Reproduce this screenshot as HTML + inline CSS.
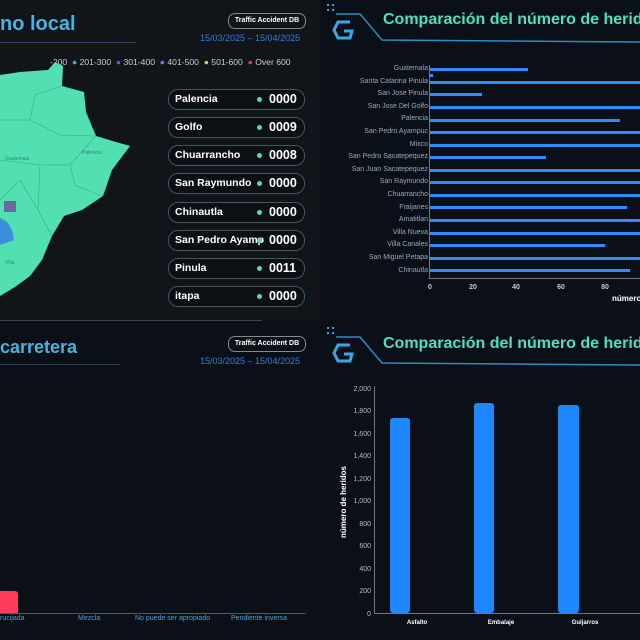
<!DOCTYPE html>
<html><head><meta charset="utf-8"><style>
html,body{margin:0;padding:0;}
body{width:640px;height:640px;background:#0b0f17;position:relative;overflow:hidden;font-family:"Liberation Sans",sans-serif;}
.a{position:absolute;white-space:nowrap;}
.pill{position:absolute;left:168px;width:135px;height:19px;border:1.5px solid #3c5a5c;border-radius:10px;background:#0c1014;color:#fff;font-weight:bold;font-size:10.5px;overflow:hidden;}
.pill .n{position:absolute;left:6px;top:3px;}
.pill .d{position:absolute;left:88px;top:7px;width:5px;height:5px;border-radius:50%;background:#5fd8b0;}
.pill .v{position:absolute;left:100px;top:2px;font-size:12.5px;background:#0c1014;}
.badge{position:absolute;left:228px;width:76px;height:14px;border:1px solid #888;border-radius:7px;color:#fff;font-size:7px;font-weight:bold;text-align:center;line-height:14px;}
.date{position:absolute;color:#2f7fd8;font-size:9px;left:200px;}
.hl{position:absolute;right:0;font-size:7px;color:#9ab;text-align:right;width:92px;}
</style></head><body>
<div class="a" style="left:0;top:0;width:320px;height:320px;background:#111419"></div>
<div class="a" style="left:0;top:320px;width:262px;height:1px;background:#3a4450"></div>

<!-- TOP LEFT -->
<div class="a" style="left:0;top:13px;font-size:20px;font-weight:bold;color:#45b5e0">no local</div>
<div class="a" style="left:0;top:42px;width:136px;height:1px;background:#2a4a60"></div>
<div class="badge" style="top:13px">Traffic Accident DB</div>
<div class="date" style="top:33px">15/03/2025 – 15/04/2025</div>
<div class="a" style="left:50px;top:57px;font-size:8.6px;color:#ccc">
-200 &nbsp;<span style="color:#4aa8e0">●</span> 201-300 &nbsp;<span style="color:#2d6fe0">●</span> 301-400 &nbsp;<span style="color:#8a6fe0">●</span> 401-500 &nbsp;<span style="color:#e8c060">●</span> 501-600 &nbsp;<span style="color:#e0405a">●</span> Over 600</div>
<svg class="a" style="left:0;top:0" width="140" height="320">
<polygon points="0,75 20,72 48,70 55,62 63,66 62,86 84,92 86,112 96,136 116,142 130,146 112,170 103,196 82,210 64,216 52,236 42,260 30,276 15,287 0,296" fill="#52e0b2"/>
<g stroke="#3fb890" stroke-width="0.8" fill="none">
<path d="M0,120 L30,120 60,135 95,136"/><path d="M30,120 L35,95 62,86"/><path d="M0,160 L40,165 70,165 96,136"/>
<path d="M70,165 L75,185 102,196"/><path d="M40,165 L38,210 52,236"/><path d="M20,180 L38,210"/><path d="M0,200 L20,180"/>
</g>
<path d="M0,218 Q12,222 14,240 L0,245Z" fill="#3a8fd8"/>
<rect x="4" y="201" width="12" height="11" fill="#6a6aa0"/>
<g font-size="5" fill="#2a8a70"><text x="5" y="160">Guatemala</text><text x="82" y="154">Palencia</text><text x="5" y="264">Villa</text></g>
</svg>
<div class="pill" style="top:89px"><span class="n">Palencia</span><span class="d"></span><span class="v">0000</span></div>
<div class="pill" style="top:117px"><span class="n">Golfo</span><span class="d"></span><span class="v">0009</span></div>
<div class="pill" style="top:145px"><span class="n">Chuarrancho</span><span class="d"></span><span class="v">0008</span></div>
<div class="pill" style="top:173px"><span class="n">San Raymundo</span><span class="d"></span><span class="v">0000</span></div>
<div class="pill" style="top:202px"><span class="n">Chinautla</span><span class="d"></span><span class="v">0000</span></div>
<div class="pill" style="top:230px"><span class="n">San Pedro Ayamp</span><span class="d"></span><span class="v">0000</span></div>
<div class="pill" style="top:258px"><span class="n">Pinula</span><span class="d"></span><span class="v">0011</span></div>
<div class="pill" style="top:286px"><span class="n">itapa</span><span class="d"></span><span class="v">0000</span></div>

<!-- TOP RIGHT -->
<svg class="a" style="left:320px;top:0" width="320" height="50">
<path d="M16,14 L40,14 L62,40 L320,42" stroke="#2a8fc0" stroke-width="1.5" fill="none"/>
<path d="M30,22 L18,22 L14,30 L18,38 L30,38 L32,31 L24,31" stroke="#3aa8e8" stroke-width="3" fill="none"/>
<g fill="#4a9ad0"><rect x="7" y="4" width="2" height="2"/><rect x="12" y="4" width="2" height="2"/><rect x="7" y="9" width="2" height="2"/><rect x="12" y="9" width="2" height="2"/></g>
</svg>
<div class="a" style="left:383px;top:11px;font-size:16px;font-weight:bold;color:#4fe0c0">Comparación del número de heridos</div>
<div style="position:absolute;left:330px;top:65px;width:98px">
<div class="hl" style="top:0">Guatemala</div><div class="hl" style="top:12.6px">Santa Catarina Pinula</div><div class="hl" style="top:25.2px">San Jose Pinula</div><div class="hl" style="top:37.8px">San Jose Del Golfo</div><div class="hl" style="top:50.4px">Palencia</div><div class="hl" style="top:63px">San Pedro Ayampuc</div><div class="hl" style="top:75.6px">Mixco</div><div class="hl" style="top:88.2px">San Pedro Sacatepequez</div><div class="hl" style="top:100.8px">San Juan Sacatepequez</div><div class="hl" style="top:113.4px">San Raymundo</div><div class="hl" style="top:126px">Chuarrancho</div><div class="hl" style="top:138.6px">Fraijanes</div><div class="hl" style="top:151.2px">Amatitlan</div><div class="hl" style="top:163.8px">Villa Nueva</div><div class="hl" style="top:176.4px">Villa Canales</div><div class="hl" style="top:189px">San Miguel Petapa</div><div class="hl" style="top:201.6px">Chinautla</div>
</div>
<svg class="a" style="left:0;top:0" width="640" height="320">
<line x1="429.5" y1="65" x2="429.5" y2="278" stroke="#777"/>
<line x1="429" y1="278.5" x2="640" y2="278.5" stroke="#777"/>
<g fill="#2f8cff">
<rect x="430" y="68" width="98" height="3"/><rect x="430" y="74" width="3" height="3"/>
<rect x="430" y="81" width="210" height="3"/><rect x="430" y="93" width="52" height="3"/><rect x="430" y="106" width="210" height="3"/>
<rect x="430" y="119" width="190" height="3"/><rect x="430" y="131" width="210" height="3"/><rect x="430" y="144" width="210" height="3"/>
<rect x="430" y="156" width="116" height="3"/><rect x="430" y="169" width="210" height="3"/><rect x="430" y="181" width="210" height="3"/>
<rect x="430" y="194" width="210" height="3"/><rect x="430" y="206" width="197" height="3"/><rect x="430" y="219" width="210" height="3"/>
<rect x="430" y="232" width="210" height="3"/><rect x="430" y="244" width="175" height="3"/><rect x="430" y="257" width="210" height="3"/>
<rect x="430" y="269" width="200" height="3"/>
</g>
<g font-size="7" fill="#ccc" font-weight="bold" text-anchor="middle"><text x="430" y="289">0</text><text x="473" y="289">20</text><text x="516" y="289">40</text><text x="561" y="289">60</text><text x="605" y="289">80</text></g>
<text x="612" y="301" font-size="8" fill="#fff" font-weight="bold">número</text>
</svg>

<!-- BOTTOM LEFT -->
<div class="a" style="left:0;top:337px;font-size:18px;font-weight:bold;color:#45b5e0">carretera</div>
<div class="a" style="left:0;top:364px;width:120px;height:1px;background:#2a4050"></div>
<div class="badge" style="top:336px">Traffic Accident DB</div>
<div class="date" style="top:356px">15/03/2025 – 15/04/2025</div>
<div class="a" style="left:0;top:591px;width:18px;height:22px;background:#ff3b5c;border-radius:0 3px 0 0"></div>
<div class="a" style="left:0;top:613px;width:306px;height:1px;background:#555"></div>
<div class="a" style="left:0;top:615px;font-size:7px;color:#4aa0d8">rucijada</div>
<div class="a" style="left:78px;top:615px;font-size:7px;color:#4aa0d8">Mezcla</div>
<div class="a" style="left:135px;top:615px;font-size:7px;color:#4aa0d8">No puede ser apropiado</div>
<div class="a" style="left:231px;top:615px;font-size:7px;color:#4aa0d8">Pendiente inversa</div>

<!-- BOTTOM RIGHT -->
<svg class="a" style="left:320px;top:323px" width="320" height="50">
<path d="M16,14 L40,14 L62,40 L320,42" stroke="#2a8fc0" stroke-width="1.5" fill="none"/>
<path d="M30,22 L18,22 L14,30 L18,38 L30,38 L32,31 L24,31" stroke="#3aa8e8" stroke-width="3" fill="none"/>
<g fill="#4a9ad0"><rect x="7" y="4" width="2" height="2"/><rect x="12" y="4" width="2" height="2"/><rect x="7" y="9" width="2" height="2"/><rect x="12" y="9" width="2" height="2"/></g>
</svg>
<div class="a" style="left:383px;top:335px;font-size:16px;font-weight:bold;color:#4fe0c0">Comparación del número de heridos</div>
<svg class="a" style="left:0;top:0" width="640" height="640">
<line x1="374.5" y1="386" x2="374.5" y2="613" stroke="#777"/>
<line x1="374" y1="613.5" x2="640" y2="613.5" stroke="#777"/>
<g font-size="7" fill="#bbb" text-anchor="end">
<text x="371" y="391">2,000</text><text x="371" y="413">1,800</text><text x="371" y="436">1,600</text><text x="371" y="458">1,400</text><text x="371" y="481">1,200</text><text x="371" y="503">1,000</text><text x="371" y="526">800</text><text x="371" y="548">600</text><text x="371" y="571">400</text><text x="371" y="593">200</text><text x="371" y="616">0</text>
</g>
<text transform="translate(346,502) rotate(-90)" font-size="8" fill="#fff" font-weight="bold" text-anchor="middle">número de heridos</text>
<g fill="#1e86ff"><rect x="390" y="418" width="20" height="195" rx="3"/><rect x="474" y="403" width="20" height="210" rx="3"/><rect x="558" y="405" width="21" height="208" rx="3"/></g>
<g font-size="6" fill="#fff" font-weight="bold" text-anchor="middle"><text x="417" y="624">Asfalto</text><text x="501" y="624">Embalaje</text><text x="585" y="624">Guijarros</text></g>
</svg>
</body></html>
